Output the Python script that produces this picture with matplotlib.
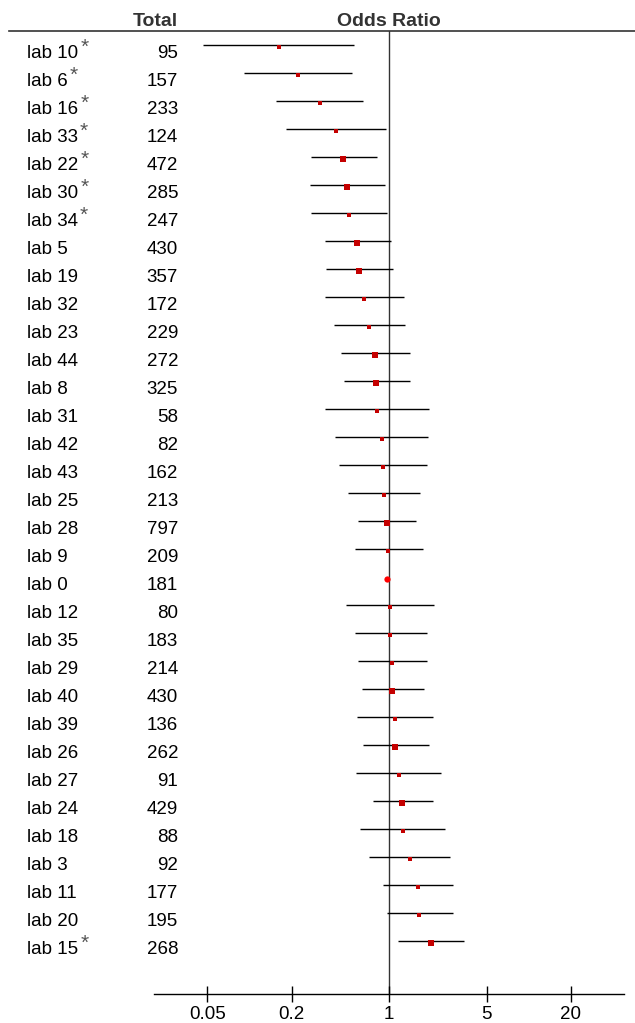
import matplotlib
matplotlib.use('Agg')
import matplotlib.pyplot as plt
from matplotlib.lines import Line2D
from matplotlib.transforms import blended_transform_factory
from matplotlib.ticker import FixedLocator, FixedFormatter, NullLocator

plt.rcParams['font.family'] = ['Liberation Sans', 'DejaVu Sans']

# rows, top to bottom
labs = ['lab 10', 'lab 6', 'lab 16', 'lab 33', 'lab 22', 'lab 30', 'lab 34', 'lab 5',
        'lab 19', 'lab 32', 'lab 23', 'lab 44', 'lab 8', 'lab 31', 'lab 42', 'lab 43',
        'lab 25', 'lab 28', 'lab 9', 'lab 0', 'lab 12', 'lab 35', 'lab 29', 'lab 40',
        'lab 39', 'lab 26', 'lab 27', 'lab 24', 'lab 18', 'lab 3', 'lab 11', 'lab 20',
        'lab 15']
starred = ['lab 10', 'lab 6', 'lab 16', 'lab 33', 'lab 22', 'lab 30', 'lab 34', 'lab 15']
totals = [95, 157, 233, 124, 472, 285, 247, 430, 357, 172, 229, 272, 325, 58, 82, 162,
          213, 797, 209, 181, 80, 183, 214, 430, 136, 262, 91, 429, 88, 92, 177, 195, 268]
odds = [0.162, 0.222, 0.319, 0.415, 0.469, 0.500, 0.515, 0.590, 0.610, 0.656, 0.716,
        0.794, 0.807, 0.817, 0.887, 0.901, 0.916, 0.958, 0.984, 0.97, 1.012, 1.017,
        1.051, 1.051, 1.098, 1.104, 1.173, 1.239, 1.253, 1.407, 1.613, 1.640, 1.998]
lower = [0.0466, 0.0917, 0.1545, 0.183, 0.275, 0.272, 0.276, 0.347, 0.354, 0.345, 0.400,
         0.451, 0.472, 0.347, 0.411, 0.434, 0.509, 0.600, 0.565, None, 0.490, 0.568,
         0.594, 0.641, 0.587, 0.645, 0.580, 0.761, 0.620, 0.719, 0.901, 0.958, 1.154]
upper = [0.559, 0.541, 0.648, 0.942, 0.817, 0.927, 0.963, 1.023, 1.057, 1.274, 1.302,
         1.40, 1.407, 1.933, 1.902, 1.862, 1.659, 1.545, 1.743, None, 2.10, 1.852, 1.852,
         1.763, 2.055, 1.914, 2.333, 2.045, 2.492, 2.734, 2.858, 2.872, 3.425]
reference_lab = 'lab 0'
xticks = [0.05, 0.2, 1, 5, 20]
xtick_labels = ['0.05', '0.2', '1', '5', '20']

fig = plt.figure(figsize=(6.35, 10.23), dpi=100)
ax = fig.add_axes([0.2425, 0.0284, 0.7402, 0.9413])

for i, lab in enumerate(labs):
    if lower[i] is not None:
        ax.plot([lower[i], upper[i]], [i, i], color='black', lw=1.0,
                solid_capstyle='butt', zorder=2)
    if lab == reference_lab:
        ax.plot(odds[i], i + 0.06, 'o', color='#ff0000', ms=4.5, mew=0, zorder=3)
    else:
        side = 4.0 * (totals[i] / 95) ** 0.22 * 0.72
        ax.plot(odds[i], i + 0.07, 's', color='#c40000', ms=side, mew=0, zorder=3)

ax.axvline(1, color='#333333', lw=1.0, zorder=1)

ax.set_xscale('log')
ax.set_xlim(0.0207, 48)
ax.set_ylim(33.89, -0.5)

ax.xaxis.set_major_locator(FixedLocator(xticks))
ax.xaxis.set_major_formatter(FixedFormatter(xtick_labels))
ax.xaxis.set_minor_locator(NullLocator())
ax.tick_params(axis='x', direction='inout', length=11, width=1.0, pad=3,
               labelsize=13.5, color='black')
ax.set_yticks([])
for side in ['left', 'right', 'top']:
    ax.spines[side].set_visible(False)
ax.spines['bottom'].set_linewidth(1.0)

# left-hand columns
tr = blended_transform_factory(fig.transFigure, ax.transData)
for i, lab in enumerate(labs):
    t = ax.text(27 / 635, i + 0.46, lab, transform=tr, fontsize=13.5,
                ha='left', va='baseline')
    if lab in starred:
        ax.annotate('*', xy=(1, 1), xycoords=t, xytext=(1.5, 5),
                    textcoords='offset points', ha='left', va='top',
                    fontsize=15, color='#555555')
    ax.text(178 / 635, i + 0.46, str(totals[i]), transform=tr, fontsize=13.5,
            ha='right', va='baseline')

# headers and rule
head_y = 1 - 26 / 1023
fig.text(178 / 635, head_y, 'Total', fontsize=14, fontweight='bold', color='#333333',
         ha='right', va='baseline')
ax.text(1, head_y, 'Odds Ratio', transform=blended_transform_factory(ax.transData, fig.transFigure),
        fontsize=14, fontweight='bold', color='#333333', ha='center', va='baseline')
fig.add_artist(Line2D([9 / 635, 1.0], [1 - 31 / 1023] * 2, color='#333333', lw=1.2))

fig.savefig('out.png', dpi=100)
